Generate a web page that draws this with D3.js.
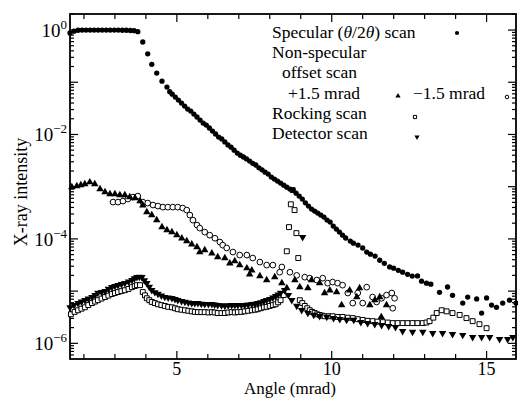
<!DOCTYPE html>
<html>
<head>
<meta charset="utf-8">
<script src="https://cdn.jsdelivr.net/npm/d3@7"></script>
<style>
  body { margin: 0; background: #fff; }
  svg text { font-family: "Liberation Serif", "Times New Roman", Times, serif; }
</style>
</head>
<body>
<svg id="chart" width="518" height="400"></svg>
<script>
// data: [angle (mrad), intensity]
const specular = [
  [1.55,0.88],[1.68,0.95],[1.81,0.99],[1.94,1.0],[2.07,1.0],[2.2,1.0],[2.33,1.0],[2.46,1.0],
  [2.59,1.0],[2.72,1.0],[2.85,1.0],[2.98,1.0],[3.11,1.0],[3.24,0.99],[3.37,0.99],[3.5,0.98],
  [3.62,0.97],[3.74,0.93],[3.90,0.59],[4.06,0.35],[4.19,0.22],[4.35,0.15],[4.52,0.105],
  [4.68,0.081],[4.77,0.066],[4.85,0.059],[4.95,0.052],[5.05,0.0456],[5.15,0.040],[5.25,0.035],
  [5.35,0.0307],[5.45,0.0281],[5.55,0.0246],[5.65,0.0216],[5.75,0.0189],[5.85,0.0165],
  [5.95,0.0151],[6.05,0.0133],[6.15,0.0116],[6.25,0.0102],[6.35,0.0089],[6.45,0.0082],
  [6.55,0.0072],[6.65,0.0063],[6.75,0.0057],[6.85,0.0050],[6.95,0.0044],[7.05,0.0040],
  [7.15,0.0037],[7.25,0.0034],[7.35,0.0031],[7.45,0.0028],[7.55,0.0026],[7.65,0.0023],
  [7.75,0.0021],[7.85,0.0019],[7.95,0.00174],[8.05,0.00153],[8.15,0.0014],[8.25,0.00128],
  [8.35,0.00117],[8.45,0.00107],[8.55,0.00098],[8.65,0.0009],[8.75,0.00086],[8.85,0.00075],
  [8.95,0.00066],[9.05,0.00058],[9.15,0.00049],[9.25,0.000425],[9.35,0.000372],[9.45,0.000341],
  [9.55,0.000312],[9.65,0.000286],[9.75,0.000262],[9.85,0.000229],[9.95,0.00021],[10.05,0.000176],
  [10.15,0.000154],[10.25,0.000135],[10.35,0.000118],[10.45,0.000104],[10.6,9.1e-5],[10.7,8.3e-5],
  [10.85,7.6e-5],[11.0,6.7e-5],[11.13,5.6e-5],[11.25,5.1e-5],[11.4,4.7e-5],[11.55,3.9e-5],
  [11.7,3.4e-5],[11.87,2.9e-5],[12.0,2.75e-5],[12.15,2.5e-5],[12.29,2.3e-5],[12.45,2.1e-5],
  [12.6,1.94e-5],[12.77,1.95e-5],[12.9,1.55e-5],[13.06,1.42e-5],[13.2,1.36e-5],[13.48,9.5e-6],
  [13.74,1.2e-5],[13.9,8.3e-6],[14.23,5.9e-6],[14.39,7.7e-6],[14.68,7.1e-6],[14.84,3.8e-6],
  [15.0,7.4e-6],[15.16,5.4e-6],[15.32,4.9e-6],[15.52,5.9e-6],[15.74,6.7e-6],[15.95,5.9e-6]
];

const offsetPlus = [
  [1.61,9.8e-4],[1.77,1.03e-3],[1.90,1.07e-3],[2.03,1.12e-3],[2.19,1.22e-3],[2.35,1.12e-3],
  [2.52,9.0e-4],[2.68,7.9e-4],[2.84,7.2e-4],[3.0,7.2e-4],[3.16,6.9e-4],[3.32,6.9e-4],
  [3.48,6.3e-4],[3.65,6.05e-4],[3.81,5.3e-4],[3.90,4.4e-4],[4.03,3.26e-4],[4.19,2.86e-4],
  [4.35,2.29e-4],[4.52,1.68e-4],[4.68,1.47e-4],[4.84,1.35e-4],[5.0,1.18e-4],[5.16,1.03e-4],
  [5.32,9.1e-5],[5.48,7.9e-5],[5.65,7.0e-5],[5.74,5.6e-5],[5.90,6.1e-5],[6.13,5.3e-5],
  [6.32,4.5e-5],[6.55,4.3e-5],[6.71,3.4e-5],[6.87,3.75e-5],[7.03,3.15e-5],[7.26,2.75e-5],
  [7.42,2.5e-5],[7.35,2.1e-5],[7.68,1.94e-5],[7.90,1.63e-5],[8.16,1.85e-5],[8.39,1.42e-5],
  [8.55,1.14e-5],[8.81,1.63e-5],[8.97,1.19e-5],[9.23,1.14e-5],[9.35,1.63e-5],[9.61,1.42e-5],
  [9.77,9.2e-6],[9.94,1.04e-5],[10.16,9.6e-6],[10.32,5.4e-6],[10.58,1.04e-5],[10.81,7.7e-6],
  [10.9,1.14e-5],[11.23,5.4e-6],[11.39,6.7e-6],[11.55,7.7e-6],[11.77,5.4e-6],[11.6,3.2e-6]
];

const offsetMinus = [
  [2.94,5.07e-4],[3.10,5.07e-4],[3.26,5.3e-4],[3.42,5.8e-4],[3.58,6.3e-4],[3.74,6.6e-4],
  [3.90,5.07e-4],[4.06,4.85e-4],[4.23,4.45e-4],[4.39,4.25e-4],[4.55,4.06e-4],[4.71,4.06e-4],
  [4.87,4.06e-4],[5.03,4.06e-4],[5.19,3.9e-4],[5.32,3.56e-4],[5.42,2.86e-4],[5.52,2.29e-4],
  [5.65,1.84e-4],[5.74,1.61e-4],[5.90,1.35e-4],[6.06,1.18e-4],[6.23,1.03e-4],[6.39,8.7e-5],
  [6.48,7.6e-5],[6.61,6.7e-5],[6.81,5.6e-5],[7.03,4.9e-5],[7.26,4.9e-5],[7.45,4.3e-5],
  [7.68,3.6e-5],[7.90,3.15e-5],[8.10,3.15e-5],[8.39,2.9e-5],[8.32,2.3e-5],[8.65,2.3e-5],
  [8.87,2.0e-5],[9.13,1.85e-5],[9.29,1.77e-5],[9.52,1.63e-5],[9.71,1.77e-5],[9.87,1.42e-5],
  [10.03,1.49e-5],[10.19,1.42e-5],[10.35,1.3e-5],[10.52,9.2e-6],[10.68,5.9e-6],[10.84,9.2e-6],
  [11.0,5.9e-6],[11.13,1.19e-5],[11.32,7.7e-6],[11.45,6.2e-6],[11.61,7.3e-6],[11.77,8.4e-6],
  [11.94,9.2e-6],[12.03,7.3e-6],[11.97,4.7e-6]
];

const rocking = [
  [1.58,3.6e-6],[1.70,4.0e-6],[1.81,4.3e-6],[1.92,4.6e-6],[2.03,4.9e-6],[2.14,5.4e-6],[2.26,5.9e-6],
  [2.36,6.3e-6],[2.45,6.7e-6],[2.57,7.2e-6],[2.68,7.7e-6],[2.79,8.2e-6],[2.90,8.8e-6],[3.0,9.2e-6],
  [3.10,9.6e-6],[3.21,1.0e-5],[3.32,1.04e-5],[3.44,1.1e-5],[3.55,1.19e-5],[3.64,1.25e-5],[3.71,1.3e-5],
  [3.81,1.3e-5],[3.90,9.6e-6],[3.97,8.3e-6],[4.03,7.3e-6],[4.11,6.7e-6],[4.19,6.2e-6],[4.29,5.9e-6],
  [4.39,5.6e-6],[4.50,5.4e-6],[4.61,5.2e-6],[4.72,5.0e-6],[4.84,4.9e-6],[4.94,4.7e-6],
  [5.03,4.5e-6],[5.15,4.4e-6],[5.26,4.3e-6],[5.37,4.2e-6],[5.48,4.1e-6],[5.58,4.0e-6],[5.68,3.96e-6],
  [5.79,3.96e-6],[5.90,3.96e-6],[6.02,3.9e-6],[6.13,3.96e-6],[6.22,3.9e-6],[6.32,3.8e-6],[6.44,3.8e-6],
  [6.55,3.8e-6],[6.66,3.9e-6],[6.77,3.96e-6],[6.87,3.9e-6],[6.97,3.96e-6],[7.08,4.0e-6],[7.19,4.1e-6],
  [7.30,4.2e-6],[7.42,4.3e-6],[7.52,4.4e-6],[7.61,4.5e-6],[7.71,4.7e-6],[7.81,4.9e-6],[7.90,5.0e-6],
  [8.0,5.2e-6],[8.10,5.4e-6],[8.19,5.6e-6],[8.27,6.1e-6],[8.35,6.7e-6],[8.45,8.4e-6],
  [8.55,5.8e-5],[8.62,1.68e-4],[8.68,4.6e-4],[8.74,8.6e-4],[8.80,3.56e-4],[8.86,1.29e-4],
  [8.92,4.3e-5],[8.97,6.7e-6],[9.05,5.9e-6],[9.13,5.2e-6],[9.21,4.7e-6],[9.29,4.3e-6],[9.37,4.0e-6],
  [9.45,3.8e-6],[9.53,3.6e-6],[9.61,3.5e-6],[9.69,3.4e-6],[9.77,3.3e-6],[9.9,3.3e-6],[10.03,3.3e-6],
  [10.19,3.2e-6],[10.35,3.2e-6],[10.52,3.1e-6],[10.68,3.04e-6],
  [10.84,2.9e-6],[11.0,2.8e-6],[11.16,2.7e-6],[11.32,2.66e-6],[11.48,2.6e-6],[11.65,2.55e-6],
  [11.81,2.5e-6],[11.97,2.44e-6],[12.13,2.44e-6],[12.29,2.44e-6],[12.45,2.44e-6],[12.61,2.44e-6],
  [12.77,2.44e-6],[12.94,2.44e-6],[13.06,2.5e-6],[13.16,2.66e-6],[13.28,3.1e-6],[13.39,3.8e-6],
  [13.55,4.3e-6],[13.71,4.1e-6],[13.9,3.8e-6],[14.13,3.5e-6],[14.35,3.04e-6],[14.55,2.66e-6],
  [14.77,2.33e-6],[15.0,1.95e-6]
];

const detector = [
  [1.55,4.9e-6],[1.68,5.4e-6],[1.81,5.9e-6],[1.92,6.3e-6],[2.03,6.7e-6],[2.14,7.2e-6],[2.26,7.7e-6],
  [2.36,8.4e-6],[2.45,9.2e-6],[2.57,9.6e-6],[2.68,1.0e-5],[2.79,1.1e-5],[2.90,1.19e-5],[3.0,1.25e-5],
  [3.10,1.3e-5],[3.21,1.36e-5],[3.32,1.42e-5],[3.44,1.52e-5],[3.55,1.63e-5],[3.63,1.75e-5],[3.71,1.85e-5],
  [3.79,1.87e-5],[3.87,1.85e-5],[3.95,1.6e-5],[4.03,1.42e-5],[4.11,1.2e-5],[4.19,1.04e-5],[4.29,9.5e-6],
  [4.39,8.8e-6],[4.50,8.2e-6],[4.61,7.7e-6],[4.72,7.5e-6],[4.84,7.3e-6],[4.94,7.0e-6],[5.03,6.7e-6],
  [5.15,6.4e-6],[5.26,6.2e-6],[5.37,6.0e-6],[5.48,5.9e-6],[5.58,5.9e-6],[5.68,5.9e-6],[5.79,5.7e-6],
  [5.90,5.6e-6],[6.02,5.6e-6],[6.13,5.6e-6],[6.22,5.5e-6],[6.32,5.4e-6],[6.44,5.3e-6],
  [6.55,5.2e-6],[6.66,5.3e-6],[6.77,5.4e-6],[6.87,5.4e-6],[6.97,5.4e-6],[7.08,5.4e-6],[7.19,5.4e-6],
  [7.30,5.5e-6],[7.42,5.6e-6],[7.52,5.7e-6],[7.61,5.9e-6],[7.71,6.1e-6],
  [7.81,6.4e-6],[7.90,6.7e-6],[8.0,7.0e-6],[8.10,7.5e-6],[8.19,8.0e-6],[8.27,8.6e-6],[8.35,9.2e-6],
  [8.48,1.04e-5],[8.60,8.4e-6],[8.71,6.7e-6],
  [8.87,5.2e-6],[9.03,4.3e-6],[9.06,1.08e-4],[9.23,3.8e-6],[9.42,3.5e-6],[9.61,3.3e-6],
  [9.84,3.2e-6],[10.06,3.04e-6],[10.26,2.9e-6],[10.48,2.8e-6],[10.71,2.8e-6],[10.94,2.55e-6],
  [11.16,2.44e-6],[11.39,2.33e-6],[11.61,2.23e-6],[11.84,2.14e-6],[12.06,2.04e-6],[12.29,1.71e-6],
  [12.61,1.65e-6],[12.94,1.65e-6],[13.26,1.57e-6],[13.58,1.57e-6],[13.9,1.5e-6],[14.23,1.44e-6],
  [14.55,1.31e-6],[14.84,1.31e-6],[15.1,1.31e-6],[15.42,1.2e-6],[15.68,1.2e-6],[15.85,1.31e-6]
];

const xMajorTicks = [5, 10, 15];
const xMinorTicks = [2, 3, 4, 6, 7, 8, 9, 11, 12, 13, 14];
const yLabelExps = [0, -2, -4, -6];

const svg = d3.select('#chart');
const plotLeft = 70, plotRight = 516, plotTop = 14, plotBottom = 359;

const x = d3.scaleLinear().domain([1.55, 15.95]).range([plotLeft, plotRight]);
const y = d3.scaleLog().domain([Math.pow(10, -6.3), Math.pow(10, 0.307)]).range([plotBottom, plotTop]);

// frame
svg.append('rect')
  .attr('x', plotLeft).attr('y', plotTop)
  .attr('width', plotRight - plotLeft).attr('height', plotBottom - plotTop)
  .attr('fill', 'none').attr('stroke', '#000').attr('stroke-width', 1.8);

const ticks = svg.append('g').attr('stroke', '#000').attr('stroke-width', 1.2);

// x ticks on bottom and top
xMajorTicks.concat(xMinorTicks).forEach(function (t) {
  const len = xMajorTicks.includes(t) ? 8 : 5;
  ticks.append('line').attr('x1', x(t)).attr('x2', x(t)).attr('y1', plotBottom).attr('y2', plotBottom - len);
  ticks.append('line').attr('x1', x(t)).attr('x2', x(t)).attr('y1', plotTop).attr('y2', plotTop + len);
});

// y log ticks on left and right
for (let e = -7; e <= 0; e++) {
  for (let m = 1; m <= 9; m++) {
    const v = m * Math.pow(10, e);
    if (v < y.domain()[0] || v > y.domain()[1]) continue;
    const len = m === 1 ? 8 : 4;
    ticks.append('line').attr('x1', plotLeft).attr('x2', plotLeft + len).attr('y1', y(v)).attr('y2', y(v));
    ticks.append('line').attr('x1', plotRight).attr('x2', plotRight - len).attr('y1', y(v)).attr('y2', y(v));
  }
}

// tick labels
svg.selectAll('.xlab')
  .data(xMajorTicks)
  .join('text')
  .attr('x', d => x(d))
  .attr('y', 375)
  .attr('text-anchor', 'middle')
  .attr('font-size', 18)
  .text(d => d);

const ylab = svg.selectAll('.ylab')
  .data(yLabelExps)
  .join('text')
  .attr('x', 67)
  .attr('y', d => y(Math.pow(10, d)) + 7)
  .attr('text-anchor', 'end')
  .attr('font-size', 19);
ylab.append('tspan').text('10');
ylab.append('tspan').attr('dy', -8).attr('font-size', 13).text(d => d === 0 ? '0' : '\u2212' + Math.abs(d));

svg.append('text')
  .attr('transform', 'translate(27,192) rotate(-90)')
  .attr('text-anchor', 'middle')
  .attr('font-size', 18)
  .text('X-ray intensity');

svg.append('text')
  .attr('x', 290).attr('y', 394)
  .attr('text-anchor', 'middle')
  .attr('font-size', 17)
  .text('Angle (mrad)');

// markers
const plot = svg.append('g');
function drawSeries(data, type, size, filled, rotate) {
  plot.append('g').selectAll('path')
    .data(data)
    .join('path')
    .attr('transform', d => 'translate(' + x(d[0]) + ',' + y(d[1]) + ')' + (rotate ? ' rotate(180)' : ''))
    .attr('d', d3.symbol().type(type).size(size))
    .attr('fill', filled ? '#000' : '#fff')
    .attr('stroke', '#000')
    .attr('stroke-width', filled ? 0 : 1);
}
drawSeries(rocking, d3.symbolSquare, 24, false, false);
drawSeries(offsetMinus, d3.symbolCircle, 26, false, false);
drawSeries(detector, d3.symbolTriangle, 24, true, true);
drawSeries(offsetPlus, d3.symbolTriangle, 24, true, false);
drawSeries(specular, d3.symbolCircle, 22, true, false);

// legend
const legend = svg.append('g').attr('font-size', 17.5);
const spec = legend.append('text').attr('x', 272).attr('y', 38);
spec.append('tspan').text('Specular (');
spec.append('tspan').attr('font-style', 'italic').text('\u03b8');
spec.append('tspan').text('/2');
spec.append('tspan').attr('font-style', 'italic').text('\u03b8');
spec.append('tspan').text(') scan');
legend.append('text').attr('x', 272).attr('y', 58).text('Non-specular');
legend.append('text').attr('x', 282).attr('y', 78).text('offset scan');
legend.append('text').attr('x', 288).attr('y', 99).text('+1.5 mrad');
legend.append('text').attr('x', 413).attr('y', 99).text('\u22121.5 mrad');
legend.append('text').attr('x', 272).attr('y', 119).text('Rocking scan');
legend.append('text').attr('x', 272).attr('y', 139).text('Detector scan');

function legendMark(px, py, type, size, filled, rotate) {
  legend.append('path')
    .attr('transform', 'translate(' + px + ',' + py + ')' + (rotate ? ' rotate(180)' : ''))
    .attr('d', d3.symbol().type(type).size(size))
    .attr('fill', filled ? '#000' : '#fff')
    .attr('stroke', '#000')
    .attr('stroke-width', filled ? 0 : 1);
}
legendMark(457, 33, d3.symbolCircle, 14, true, false);
legendMark(398, 96, d3.symbolTriangle, 12, true, false);
legendMark(507, 97, d3.symbolCircle, 10, false, false);
legendMark(415, 117, d3.symbolSquare, 10, false, false);
legendMark(417, 137, d3.symbolTriangle, 12, true, true);
</script>
</body>
</html>
